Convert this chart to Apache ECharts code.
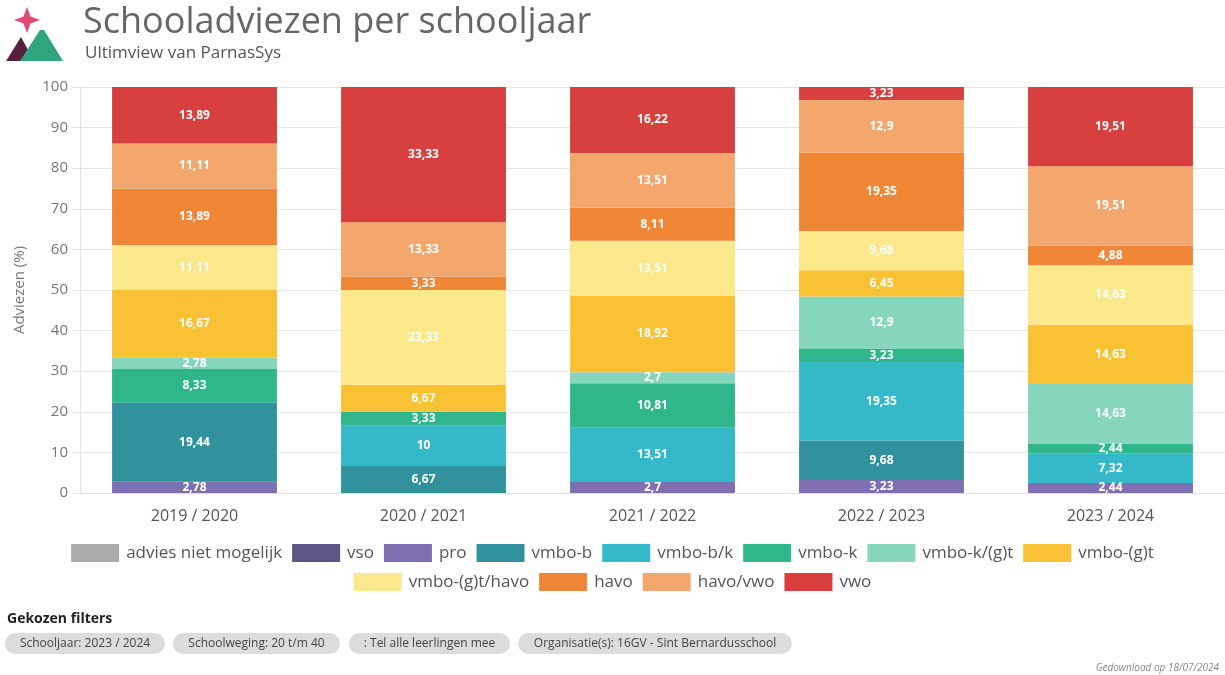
<html lang="nl">
<head>
  <meta charset="UTF-8">
  <title>Schooladviezen per schooljaar</title>
  <style>
    html, body { margin: 0; padding: 0; background: #fff; }
    #chart { width: 1225px; height: 675px; }
  </style>
</head>
<body>
  <div id="chart"></div>
  <script src="https://cdn.jsdelivr.net/npm/echarts@6/dist/echarts.min.js"></script>
  <script>
    var years = ['2019 / 2020', '2020 / 2021', '2021 / 2022', '2022 / 2023', '2023 / 2024']
    var adviezen = ['advies niet mogelijk', 'vso', 'pro', 'vmbo-b', 'vmbo-b/k', 'vmbo-k',
      'vmbo-k/(g)t', 'vmbo-(g)t', 'vmbo-(g)t/havo', 'havo', 'havo/vwo', 'vwo']
    var yTicks = [0, 10, 20, 30, 40, 50, 60, 70, 80, 90, 100]

    // percentages per advies, one value per schooljaar
    var nietMogelijk = [null, null, null, null, null]
    var vso = [null, null, null, null, null]
    var pro = [2.78, null, 2.7, 3.23, 2.44]
    var vmboB = [19.44, 6.67, null, 9.68, null]
    var vmboBK = [null, 10, 13.51, 19.35, 7.32]
    var vmboK = [8.33, 3.33, 10.81, 3.23, 2.44]
    var vmboKGT = [2.78, null, 2.7, 12.9, 14.63]
    var vmboGT = [16.67, 6.67, 18.92, 6.45, 14.63]
    var vmboGTHavo = [11.11, 23.33, 13.51, 9.68, 14.63]
    var havo = [13.89, 3.33, 8.11, 19.35, 4.88]
    var havoVwo = [11.11, 13.33, 13.51, 12.9, 19.51]
    var vwo = [13.89, 33.33, 16.22, 3.23, 19.51]

    var values = [nietMogelijk, vso, pro, vmboB, vmboBK, vmboK, vmboKGT, vmboGT, vmboGTHavo, havo, havoVwo, vwo]
    var colors = ['#aaaaaa', '#5f5686', '#7f6fb0', '#31929e', '#35b8c8', '#2fb68b',
      '#86d5bd', '#f9c235', '#fae88a', '#ef8737', '#f3a76c', '#d84040']

    var font = '"Open Sans", "Noto Sans", sans-serif'

    var series = adviezen.map(function (name, i) {
      return {
        name: name,
        type: 'bar',
        stack: 'totaal',
        barCategoryGap: '28%',
        data: values[i],
        label: {
          show: true,
          position: 'inside',
          color: '#fff',
          fontFamily: font,
          fontSize: 12,
          fontWeight: 'bold',
          formatter: function (p) {
            if (p.value == null) return ''
            return String(p.value).replace('.', ',')
          }
        }
      }
    })

    function legendRow(top, names) {
      return {
        left: 'center',
        top: top,
        icon: 'rect',
        itemWidth: 48,
        itemHeight: 18,
        itemGap: 10,
        itemStyle: { borderWidth: 0 },
        textStyle: { color: '#555', fontSize: 17, fontFamily: font, padding: [0, 0, 0, 2] },
        data: names
      }
    }

    function pill(x, w, text) {
      return {
        type: 'group',
        left: x,
        top: 633,
        children: [
          { type: 'rect', shape: { x: 0, y: 0, width: w, height: 21, r: 10.5 }, style: { fill: '#dcdcdc' } },
          { type: 'text', style: { x: w / 2, y: 10.5, text: text, fill: '#444', font: '12px ' + font, align: 'center', verticalAlign: 'middle' } }
        ]
      }
    }

    var option = {
      color: colors,
      textStyle: { fontFamily: font },
      grid: { left: 80, right: 0, top: 87, bottom: 182 },
      legend: [
        legendRow(539, adviezen.slice(0, 8)),
        legendRow(568, adviezen.slice(8))
      ],
      xAxis: {
        type: 'category',
        data: years,
        axisTick: { show: false },
        axisLine: { lineStyle: { color: '#ddd' } },
        axisLabel: { color: '#555', fontSize: 16, margin: 15, fontFamily: font }
      },
      yAxis: {
        type: 'value',
        min: yTicks[0],
        max: yTicks[yTicks.length - 1],
        interval: 10,
        name: 'Adviezen (%)',
        nameLocation: 'middle',
        nameGap: 53,
        nameTextStyle: { color: '#777', fontSize: 15, fontFamily: font },
        axisLine: { show: true, lineStyle: { color: '#e3e3e3' } },
        axisTick: { show: true, length: 8, lineStyle: { color: '#e3e3e3' } },
        axisLabel: { color: '#777', fontSize: 15, margin: 12, fontFamily: font },
        splitLine: { lineStyle: { color: '#e6e6e6' } }
      },
      graphic: [
        // logo
        { type: 'polygon', shape: { points: [[27, 7], [30.5, 16.5], [40, 20], [30.5, 23.5], [27, 33], [23.5, 23.5], [14, 20], [23.5, 16.5]] }, style: { fill: '#e24a76' } },
        { type: 'polygon', shape: { points: [[6, 61], [21, 37], [34, 61]] }, style: { fill: '#5a1f3f' } },
        { type: 'polygon', shape: { points: [[20, 61], [40, 30], [44, 30], [63, 61]] }, style: { fill: '#2fa57f' } },
        { type: 'text', left: 83, top: 5, style: { text: 'Schooladviezen per schooljaar', fill: '#666', font: '36px ' + font } },
        { type: 'text', left: 85, top: 45, style: { text: 'Ultimview van ParnasSys', fill: '#555', font: '17px ' + font } },
        { type: 'text', left: 7, top: 612, style: { text: 'Gekozen filters', fill: '#222', font: 'bold 14px ' + font } },
        pill(5, 160, 'Schooljaar: 2023 / 2024'),
        pill(173, 167, 'Schoolweging: 20 t/m 40'),
        pill(349, 161, ': Tel alle leerlingen mee'),
        pill(518, 274, 'Organisatie(s): 16GV - Sint Bernardusschool'),
        { type: 'text', right: 6, top: 663, style: { text: 'Gedownload op 18/07/2024', fill: '#888', font: 'italic 10px ' + font } }
      ],
      series: series
    }

    var chart = echarts.init(document.getElementById('chart'))
    chart.setOption(option)
  </script>
</body>
</html>
